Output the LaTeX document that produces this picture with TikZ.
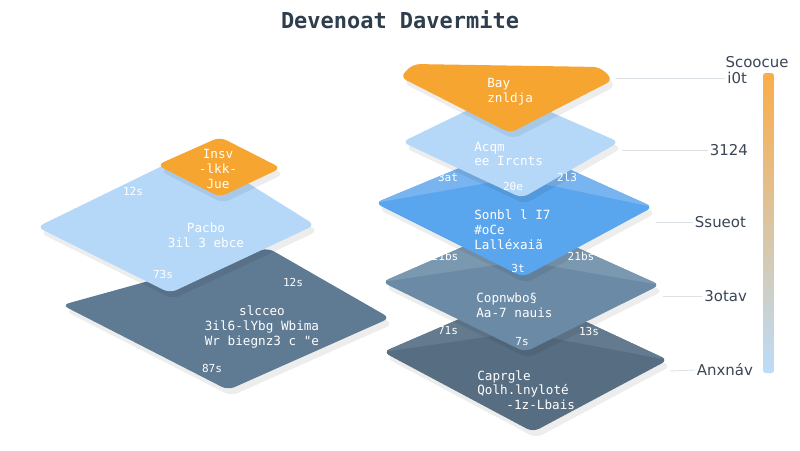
\documentclass[tikz,border=0pt]{standalone}
\usepackage{fontspec}
\setmainfont{DejaVu Sans}
\newfontfamily\monofont{DejaVu Sans Mono}

\definecolor{titlegrey}{HTML}{2F3E4C}
\definecolor{labelgrey}{HTML}{3A4654}
\definecolor{leadergrey}{HTML}{DCE1E6}
\definecolor{layerorange}{HTML}{F7A531}
\definecolor{layerlight}{HTML}{B5D8F9}
\definecolor{layerblue}{HTML}{5AA6EE}
\definecolor{layerbluetop}{HTML}{78B4EF}
\definecolor{layerslate}{HTML}{6B8AA5}
\definecolor{layerslatetop}{HTML}{7B98B1}
\definecolor{layerdark}{HTML}{576D82}
\definecolor{layerdarktop}{HTML}{647A8F}
\definecolor{layerleftdark}{HTML}{5F7A93}
\definecolor{barorange}{HTML}{FBAD48}
\definecolor{barmid}{HTML}{D8D8D2}
\definecolor{barblue}{HTML}{BCDCF8}

\tikzset{
  layer/.style={rounded corners=4pt},
  layershadow/.style={rounded corners=4pt, fill=black, opacity=0.07},
  layertext/.style={font=\monofont\fontsize{7.2}{8.4}\selectfont, text=white, align=left, inner sep=0pt},
  numtext/.style={font=\monofont\fontsize{6.3}{7}\selectfont, text=white, inner sep=0pt},
  legendtext/.style={font=\fontsize{8.5}{10}\selectfont, text=labelgrey, inner sep=1pt},
  leader/.style={draw=leadergrey, line width=0.5pt}
}

\begin{document}
\begin{tikzpicture}[x=0.02cm,y=-0.02cm]
  \useasboundingbox[fill=white] (0,0) rectangle (800,450);

  % Title
  \node[font=\monofont\bfseries\fontsize{12.5}{14}\selectfont, text=titlegrey] (title) at (400,20) {Devenoat Davermite};

  % Left stack
  \fill[layershadow] (65,311) -- (271,254) -- (393,324) -- (231,396) -- cycle;
  \fill[layer, layerleftdark] (62,305) -- (268,248) -- (390,318) -- (228,390) -- cycle;
  \fill[layershadow] (40,233) -- (198,156) -- (318,231) -- (173,299) -- cycle;
  \fill[layer, layerlight] (37,227) -- (195,150) -- (315,225) -- (170,293) -- cycle;
  \fill[layershadow] (160,171) -- (223,143) -- (284,174) -- (223,203) -- cycle;
  \fill[layer, layerorange] (157,165) -- (220,137) -- (281,168) -- (220,197) -- cycle;

  \node[layertext, align=center] (insv) at (218,169) {Insv\\-lkk-\\Jue};
  \node[layertext, align=center] (pacbo) at (206,235) {Pacbo\\3il 3 ebce};
  \node[layertext, align=center] (slcceo) at (262,327) {slcceo\\3il6-lYbg Wbima\\Wr biegnz3 c "e};
  \node[numtext] (nla) at (133,191) {12s};
  \node[numtext] (nla2) at (163,274) {73s};
  \node[numtext] (nlc) at (293,282) {12s};
  \node[numtext] (nld) at (212,368) {87s};

  % Right stack
  \fill[layershadow] (386,358) -- (525,298) -- (671,366) -- (536,438) -- cycle;
  \fill[layer, layerdark] (383,352) -- (522,292) -- (668,360) -- (533,432) -- cycle;
  \fill[layer, layerdarktop] (383,352) -- (522,292) -- (668,360) -- (520,332) -- cycle;
  \fill[layershadow] (385,288) -- (523,228) -- (663,291) -- (528,358) -- cycle;
  \fill[layer, layerslate] (382,282) -- (520,222) -- (660,285) -- (525,352) -- cycle;
  \fill[layer, layerslatetop] (382,282) -- (520,222) -- (660,285) -- (522,261) -- cycle;
  \fill[layershadow] (378,209) -- (518,151) -- (656,213) -- (526,283) -- cycle;
  \fill[layer, layerblue] (375,203) -- (515,145) -- (653,207) -- (523,277) -- cycle;
  \fill[layer, layerbluetop] (375,203) -- (515,145) -- (653,207) -- (515,178) -- cycle;
  \fill[layershadow] (405,148) -- (508,98) -- (622,148) -- (525,204) -- cycle;
  \fill[layer, layerlight] (402,142) -- (505,92) -- (619,142) -- (522,198) -- cycle;
  \fill[layershadow] (403,83) -- (416,70) -- (603,73) -- (616,86) -- (513,139) -- cycle;
  \fill[layer, layerorange] (400,77) -- (413,64) -- (600,67) -- (613,80) -- (510,133) -- cycle;

  \node[layertext, anchor=west] (bay) at (487,92) {Bay\\znldja};
  \node[layertext, anchor=west] (acqm) at (474,154) {Acqm\\ee Ircnts};
  \node[layertext, anchor=west] (sonbl) at (474,230) {Sonbl l I7\\\#oCe\\Lalléxaiã};
  \node[layertext, anchor=west] (copn) at (476,305) {Copnwbo§\\Aa-7 nauis};
  \node[layertext, anchor=west] (capr) at (477,390) {Caprgle\\Qolh.lnyloté\\\hspace*{2.3em}-1z-Lbais};

  \node[numtext] (nra) at (448,177) {3at};
  \node[numtext] (nrb) at (513,186) {20e};
  \node[numtext] (nrc) at (567,177) {2l3};
  \node[numtext] (nrd) at (445,256) {21bs};
  \node[numtext] (nre) at (518,268) {3t};
  \node[numtext] (nrf) at (581,256) {21bs};
  \node[numtext] (nrg) at (448,331) {71s};
  \node[numtext] (nrh) at (522,342) {7s};
  \node[numtext] (nri) at (589,331) {13s};

  % Legend
  \shade[rounded corners=1.5pt, top color=barorange, middle color=barmid, bottom color=barblue] (763,73) rectangle (774,373);
  \node[legendtext] (legtitle) at (757,62) {Scoocue};
  \node[legendtext, anchor=east] (lega) at (749,78) {i0t};
  \node[legendtext, anchor=east] (legb) at (750,150) {3124};
  \node[legendtext, anchor=east] (legc) at (748,222) {Ssueot};
  \node[legendtext, anchor=east] (legd) at (749,296) {3otav};
  \node[legendtext, anchor=east] (lege) at (755,370) {Anxnáv};

  \coordinate (ca) at (616,78);
  \coordinate (cb) at (622,150);
  \coordinate (cc) at (656,222);
  \coordinate (cd) at (663,296);
  \coordinate (ce) at (670,371);
  \draw[leader] (ca) -- (lega.west);
  \draw[leader] (cb) -- (legb.west);
  \draw[leader] (cc) -- (legc.west);
  \draw[leader] (cd) -- (legd.west);
  \draw[leader] (ce) -- (lege.west);
\end{tikzpicture}
\end{document}
